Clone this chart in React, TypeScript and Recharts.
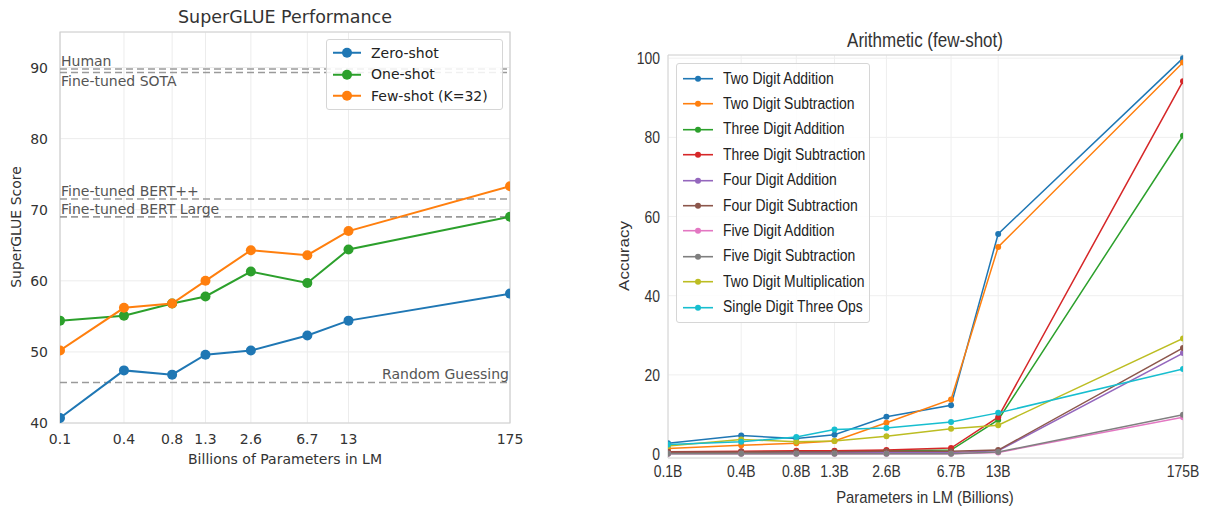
import React from 'react';
import {
  LineChart,
  Line,
  XAxis,
  YAxis,
  CartesianGrid,
  ReferenceLine,
  ReferenceArea
} from 'recharts';

// model sizes (billions of params) and the labels printed under them
const params = [0.125, 0.35, 0.76, 1.3, 2.7, 6.7, 13, 175];
const superTickLabels = ['0.1', '0.4', '0.8', '1.3', '2.6', '6.7', '13', '175'];
const arithTickLabels = ['0.1B', '0.4B', '0.8B', '1.3B', '2.6B', '6.7B', '13B', '175B'];

// SuperGLUE
const zeroShot = [40.7, 47.4, 46.8, 49.6, 50.2, 52.3, 54.4, 58.2];
const oneShot = [54.4, 55.1, 56.8, 57.8, 61.3, 59.7, 64.4, 69.0];
const fewShot = [50.2, 56.2, 56.8, 60.0, 64.3, 63.6, 67.0, 73.3];
const superYTicks = [40, 50, 60, 70, 80, 90];

const refLabels = ['Human', 'Fine-tuned SOTA', 'Fine-tuned BERT++', 'Fine-tuned BERT Large', 'Random Guessing'];
const refValues = [89.8, 89.3, 71.5, 69.0, 45.7];
const refPlaces = ['above', 'below', 'above', 'above', 'aboveRight'];

// Arithmetic (few-shot)
const twoDigitAdd = [2.7, 4.7, 3.9, 4.9, 9.4, 12.3, 55.6, 100.0];
const twoDigitSub = [1.4, 2.2, 2.7, 3.3, 7.9, 13.8, 52.3, 98.9];
const threeDigitAdd = [0.5, 0.6, 0.6, 0.7, 0.8, 1.0, 8.6, 80.4];
const threeDigitSub = [0.6, 0.7, 0.8, 0.8, 1.0, 1.5, 9.3, 94.2];
const fourDigitAdd = [0.2, 0.2, 0.3, 0.3, 0.3, 0.4, 0.8, 25.5];
const fourDigitSub = [0.5, 0.5, 0.6, 0.6, 0.7, 0.7, 1.0, 26.8];
const fiveDigitAdd = [0.1, 0.1, 0.1, 0.1, 0.1, 0.1, 0.4, 9.3];
const fiveDigitSub = [0.1, 0.1, 0.1, 0.1, 0.1, 0.1, 0.5, 9.9];
const twoDigitMul = [2.0, 3.7, 3.1, 3.3, 4.5, 6.4, 7.3, 29.2];
const singleDigitThree = [2.4, 3.1, 4.3, 6.2, 6.6, 8.1, 10.4, 21.5];
const arithYTicks = [0, 20, 40, 60, 80, 100];

const superSeries = [
  { key: 'zero', name: 'Zero-shot', color: '#1f77b4', values: zeroShot },
  { key: 'one', name: 'One-shot', color: '#2ca02c', values: oneShot },
  { key: 'few', name: 'Few-shot (K=32)', color: '#ff7f0e', values: fewShot },
];

const arithSeries = [
  { key: 'a2', name: 'Two Digit Addition', color: '#1f77b4', values: twoDigitAdd },
  { key: 's2', name: 'Two Digit Subtraction', color: '#ff7f0e', values: twoDigitSub },
  { key: 'a3', name: 'Three Digit Addition', color: '#2ca02c', values: threeDigitAdd },
  { key: 's3', name: 'Three Digit Subtraction', color: '#d62728', values: threeDigitSub },
  { key: 'a4', name: 'Four Digit Addition', color: '#9467bd', values: fourDigitAdd },
  { key: 's4', name: 'Four Digit Subtraction', color: '#8c564b', values: fourDigitSub },
  { key: 'a5', name: 'Five Digit Addition', color: '#e377c2', values: fiveDigitAdd },
  { key: 's5', name: 'Five Digit Subtraction', color: '#7f7f7f', values: fiveDigitSub },
  { key: 'm2', name: 'Two Digit Multiplication', color: '#bcbd22', values: twoDigitMul },
  { key: 'c1', name: 'Single Digit Three Ops', color: '#17becf', values: singleDigitThree },
];

const buildRows = (series: { key: string; values: number[] }[]) =>
  params.map((p, i) => {
    const row: Record<string, number> = { p };
    series.forEach((s) => {
      row[s.key] = s.values[i];
    });
    return row;
  });

const superRows = buildRows(superSeries);
const arithRows = buildRows(arithSeries);

const DEJAVU = '"DejaVu Sans", sans-serif';
const ARIAL = '"Liberation Sans", Arial, sans-serif';
// the right panel was squeezed horizontally in the source image
const SQUEEZE = 0.87;

const Txt: React.FC<{
  x: number; y: number; size: number; font: string; rotate?: boolean; sx?: number; children: React.ReactNode
}> = ({ x, y, size, font, rotate, sx = 1, children }) => (
  <div
    style={{
      position: 'absolute',
      left: x,
      top: y,
      transform: rotate
        ? `translate(-50%, -50%) rotate(-90deg) scale(1, ${sx})`
        : `translate(-50%, -50%) scale(${sx}, 1)`,
      fontFamily: font,
      fontSize: size,
      color: '#333',
      whiteSpace: 'nowrap',
      lineHeight: 1,
    }}
  >
    {children}
  </div>
);

const makeRefLabel = (text: string, place: string) => (props: any) => {
  const vb = props.viewBox || {};
  const right = place === 'aboveRight';
  const x = right ? vb.x + vb.width - 1 : vb.x + 1;
  const y = place === 'below' ? vb.y + 13 : vb.y - 3;
  return (
    <text x={x} y={y} textAnchor={right ? 'end' : 'start'} fill="#555" fontSize={14} fontFamily={DEJAVU}>
      {text}
    </text>
  );
};

const NarrowTick = (props: any) => {
  const { x, y, payload, labels, anchor, dy } = props;
  return (
    <text
      transform={`translate(${x},${y}) scale(${SQUEEZE},1)`}
      textAnchor={anchor}
      dy={dy}
      fill="#333"
      fontSize={16}
      fontFamily={ARIAL}
    >
      {labels ? labels[params.indexOf(payload.value)] : payload.value}
    </text>
  );
};

const LegendBox: React.FC<{
  items: { name: string; color: string }[];
  left: number; top: number; width: number; rowH: number;
  font: string; size: number; r: number; lineW: number; pad: number; sx?: number;
}> = ({ items, left, top, width, rowH, font, size, r, lineW, pad, sx = 1 }) => (
  <div
    style={{
      position: 'absolute',
      left,
      top,
      width,
      padding: `${pad}px 0`,
      background: 'rgba(255,255,255,0.85)',
      border: '1px solid #d6d6d6',
      borderRadius: 3,
      boxSizing: 'border-box',
    }}
  >
    {items.map((it) => (
      <div key={it.name} style={{ display: 'flex', alignItems: 'center', height: rowH }}>
        <svg width={lineW + 10} height={rowH} style={{ marginLeft: 4, flexShrink: 0 }}>
          <line x1={2} x2={lineW + 2} y1={rowH / 2} y2={rowH / 2} stroke={it.color} strokeWidth={sx < 1 ? 1.6 : 2} />
          <circle cx={lineW / 2 + 2} cy={rowH / 2} r={r} fill={it.color} />
        </svg>
        <span
          style={{
            fontFamily: font,
            fontSize: size,
            color: '#222',
            marginLeft: 2,
            whiteSpace: 'nowrap',
            display: 'inline-block',
            transform: `scale(${sx}, 1)`,
            transformOrigin: 'left center',
          }}
        >
          {it.name}
        </span>
      </div>
    ))}
  </div>
);

const SuperGlueChart = () => (
  <div style={{ position: 'absolute', left: 0, top: 0 }}>
    <LineChart width={540} height={512} data={superRows} margin={{ top: 32, right: 30, bottom: 59, left: 20 }}>
      <CartesianGrid stroke="#ececec" />
      <XAxis
        dataKey="p"
        type="number"
        scale="log"
        domain={[0.125, 175]}
        ticks={params}
        interval={0}
        allowDataOverflow
        tickFormatter={(v: number) => superTickLabels[params.indexOf(v)]}
        axisLine={false}
        tickLine={false}
        tickMargin={5}
        height={30}
        tick={{ fill: '#333', fontSize: 14, fontFamily: DEJAVU }}
      />
      <YAxis
        type="number"
        domain={[40, 95]}
        ticks={superYTicks}
        allowDataOverflow
        axisLine={false}
        tickLine={false}
        tickMargin={6}
        width={40}
        tick={{ fill: '#333', fontSize: 14, fontFamily: DEJAVU }}
      />
      <ReferenceArea x1={0.125} x2={175} y1={40} y2={95} fill="none" stroke="#cfcfcf" strokeWidth={1.2} />
      {refLabels.map((lab, i) => (
        <ReferenceLine
          key={lab}
          y={refValues[i]}
          stroke="#9a9a9a"
          strokeWidth={1.6}
          strokeDasharray="7 4"
          label={makeRefLabel(lab, refPlaces[i])}
        />
      ))}
      {superSeries.map((s) => (
        <Line
          key={s.key}
          dataKey={s.key}
          name={s.name}
          stroke={s.color}
          strokeWidth={2}
          dot={{ r: 5, fill: s.color, stroke: s.color, strokeWidth: 0 }}
          isAnimationActive={false}
        />
      ))}
    </LineChart>
  </div>
);

const ArithmeticChart = () => (
  <div style={{ position: 'absolute', left: 600, top: 0 }}>
    <LineChart width={607} height={512} data={arithRows} margin={{ top: 55, right: 24, bottom: 24, left: 30 }}>
      <CartesianGrid stroke="#efefef" />
      <XAxis
        dataKey="p"
        type="number"
        scale="log"
        domain={[0.125, 175]}
        ticks={params}
        interval={0}
        allowDataOverflow
        axisLine={false}
        tickLine={false}
        height={30}
        tick={<NarrowTick labels={arithTickLabels} anchor="middle" dy={11} />}
      />
      <YAxis
        type="number"
        domain={[-1, 100.8]}
        ticks={arithYTicks}
        allowDataOverflow
        axisLine={false}
        tickLine={false}
        width={38}
        tick={<NarrowTick anchor="end" dy={6} />}
      />
      <ReferenceArea x1={0.125} x2={175} y1={-1} y2={100.8} fill="none" stroke="#d4d4d4" strokeWidth={1} />
      {arithSeries.map((s) => (
        <Line
          key={s.key}
          dataKey={s.key}
          name={s.name}
          stroke={s.color}
          strokeWidth={1.5}
          dot={{ r: 3, fill: s.color, stroke: s.color, strokeWidth: 0 }}
          isAnimationActive={false}
        />
      ))}
    </LineChart>
  </div>
);

export default function App() {
  return (
    <div style={{ position: 'absolute', left: 0, top: 0, width: 1207, height: 512, background: '#fff', overflow: 'hidden' }}>
      <SuperGlueChart />
      <ArithmeticChart />

      <Txt x={285} y={18} size={17.5} font={DEJAVU}>SuperGLUE Performance</Txt>
      <Txt x={285} y={459} size={14} font={DEJAVU}>Billions of Parameters in LM</Txt>
      <Txt x={16} y={227} size={14} font={DEJAVU} rotate>SuperGLUE Score</Txt>
      <LegendBox
        items={superSeries}
        left={326}
        top={39}
        width={177}
        rowH={21.5}
        font={DEJAVU}
        size={14}
        r={5}
        lineW={28}
        pad={2}
      />

      <Txt x={925} y={40} size={20} font={ARIAL} sx={0.85}>Arithmetic (few-shot)</Txt>
      <Txt x={925} y={497} size={17} font={ARIAL} sx={SQUEEZE}>Parameters in LM (Billions)</Txt>
      <Txt x={624} y={256} size={17} font={ARIAL} sx={SQUEEZE} rotate>Accuracy</Txt>
      <LegendBox
        items={arithSeries}
        left={676}
        top={63}
        width={194}
        rowH={25.4}
        font={ARIAL}
        size={16}
        r={3}
        lineW={30}
        pad={2}
        sx={SQUEEZE}
      />
    </div>
  );
}
